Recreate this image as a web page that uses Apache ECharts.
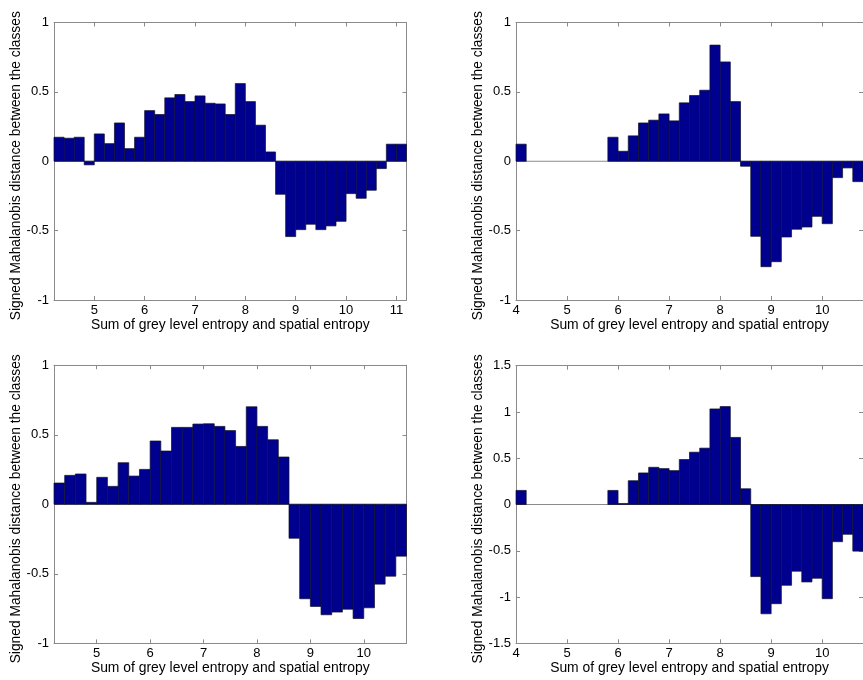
<!DOCTYPE html>
<html>
<head>
<meta charset="utf-8">
<title>Signed Mahalanobis distance histograms</title>
<script src="https://cdn.jsdelivr.net/npm/echarts@6/dist/echarts.min.js"></script>
<style>
  html, body { margin: 0; padding: 0; background: #ffffff; }
  #chart { width: 863px; height: 680px; }
</style>
</head>
<body>
<div id="chart"></div>
<script>
// Bin width of the entropy histogram
const binWidth = 0.2;

// Top-left panel: bins start at 4.2
const startTopLeft = 4.2;
const valuesTopLeft = [
  0.173, 0.166, 0.173, -0.026, 0.197, 0.127, 0.276, 0.091, 0.173, 0.365,
  0.337, 0.457, 0.481, 0.430, 0.471, 0.418, 0.413, 0.337, 0.560, 0.430,
  0.260, 0.067, -0.238, -0.543, -0.493, -0.454, -0.493, -0.466, -0.433, -0.233,
  -0.267, -0.209, -0.053, 0.123, 0.123
];

// Top-right panel: bins start at 4.0
const startTopRight = 4.0;
const valuesTopRight = [
  0.123, 0, 0, 0, 0, 0, 0, 0, 0, 0.173,
  0.072, 0.183, 0.276, 0.296, 0.341, 0.291, 0.421, 0.474, 0.512, 0.837,
  0.716, 0.430, -0.036, -0.541, -0.760, -0.724, -0.546, -0.490, -0.474, -0.397,
  -0.450, -0.118, -0.048, -0.147
];

// Bottom-left panel: bins start at 4.2
const startBottomLeft = 4.2;
const valuesBottomLeft = [
  0.153, 0.208, 0.218, 0.014, 0.194, 0.129, 0.299, 0.203, 0.251, 0.455,
  0.383, 0.553, 0.553, 0.577, 0.579, 0.560, 0.530, 0.416, 0.701, 0.560,
  0.464, 0.340, -0.244, -0.679, -0.734, -0.794, -0.775, -0.754, -0.821, -0.744,
  -0.574, -0.517, -0.373
];

// Bottom-right panel: bins start at 4.0
const startBottomRight = 4.0;
const valuesBottomRight = [
  0.152, 0, 0, 0, 0, 0, 0, 0, 0, 0.152,
  0.011, 0.257, 0.341, 0.402, 0.388, 0.366, 0.486, 0.565, 0.609, 1.033,
  1.058, 0.725, 0.170, -0.779, -1.181, -1.072, -0.873, -0.721, -0.837, -0.797,
  -1.018, -0.402, -0.322, -0.504
];

// Tick labels
const xTicksTopLeft = [5, 6, 7, 8, 9, 10, 11];
const xTicksBottomLeft = [5, 6, 7, 8, 9, 10];
const xTicksRight = [4, 5, 6, 7, 8, 9, 10];

const xLabel = 'Sum of grey level entropy and spatial entropy';
const yLabel = 'Signed Mahalanobis distance between the classes';

const FONT = '"Liberation Sans", Arial, Helvetica, sans-serif';
const AXIS_GREY = '#8a8a8a';
const BAR_FILL = '#00008f';
const BAR_EDGE = '#10102a';

const panels = [
  { start: startTopLeft, values: valuesTopLeft, xMin: 4.2, xMax: 11.2, xTicks: xTicksTopLeft,
    yMin: -1, yMax: 1, grid: { left: 54, top: 22.5, width: 352.5, height: 277.5 }, nameGap: 28 },
  { start: startTopRight, values: valuesTopRight, xMin: 4.0, xMax: 10.8, xTicks: xTicksRight,
    yMin: -1, yMax: 1, grid: { left: 516, top: 22.5, width: 353.6, height: 277.5 }, nameGap: 31 },
  { start: startBottomLeft, values: valuesBottomLeft, xMin: 4.2, xMax: 10.8, xTicks: xTicksBottomLeft,
    yMin: -1, yMax: 1, grid: { left: 54, top: 365.2, width: 352.5, height: 278.2 }, nameGap: 28 },
  { start: startBottomRight, values: valuesBottomRight, xMin: 4.0, xMax: 10.8, xTicks: xTicksRight,
    yMin: -1.5, yMax: 1.5, grid: { left: 516, top: 365.7, width: 353.6, height: 277.6 }, nameGap: 31 }
];

const grids = [], xAxes = [], yAxes = [], series = [];

panels.forEach(function (p, i) {
  grids.push(Object.assign({ containLabel: false, show: false }, p.grid));

  const lineStyle = { color: AXIS_GREY, width: 1 };
  const tick = { show: true, inside: true, length: 4, lineStyle: { color: AXIS_GREY, width: 1 } };

  // bottom axis with labels
  xAxes.push({
    type: 'value', gridIndex: i, position: 'bottom', min: p.xMin, max: p.xMax,
    axisLine: { show: true, onZero: false, lineStyle: lineStyle },
    axisTick: Object.assign({ customValues: p.xTicks }, tick),
    axisLabel: { customValues: p.xTicks, color: '#000', fontFamily: FONT, fontSize: 13, margin: 4 },
    splitLine: { show: false },
    name: xLabel, nameLocation: 'middle', nameGap: 18,
    nameTextStyle: { color: '#000', fontFamily: FONT, fontSize: 13.9 }
  });
  // top border with mirrored ticks
  xAxes.push({
    type: 'value', gridIndex: i, position: 'top', min: p.xMin, max: p.xMax,
    axisLine: { show: true, onZero: false, lineStyle: lineStyle },
    axisTick: Object.assign({ customValues: p.xTicks }, tick),
    axisLabel: { show: false, customValues: p.xTicks },
    splitLine: { show: false }
  });
  // left axis with labels
  yAxes.push({
    type: 'value', gridIndex: i, position: 'left', min: p.yMin, max: p.yMax, interval: 0.5,
    axisLine: { show: true, onZero: false, lineStyle: lineStyle },
    axisTick: tick,
    axisLabel: { color: '#000', fontFamily: FONT, fontSize: 13, margin: 5 },
    splitLine: { show: false },
    name: yLabel, nameLocation: 'middle', nameGap: p.nameGap,
    nameTextStyle: { color: '#000', fontFamily: FONT, fontSize: 13.8, padding: [0, 9, 0, 0] }
  });
  // right border with mirrored ticks
  yAxes.push({
    type: 'value', gridIndex: i, position: 'right', min: p.yMin, max: p.yMax, interval: 0.5,
    axisLine: { show: true, onZero: false, lineStyle: lineStyle },
    axisTick: tick,
    axisLabel: { show: false },
    splitLine: { show: false }
  });

  // zero baseline
  series.push({
    type: 'line', xAxisIndex: 2 * i, yAxisIndex: 2 * i, silent: true, z: 1,
    symbol: 'none', animation: false,
    lineStyle: { color: AXIS_GREY, width: 1 },
    data: [[p.xMin, 0], [p.xMax, 0]]
  });

  // histogram bars: [left edge, right edge, value]
  const bins = p.values.map(function (v, k) {
    const left = +(p.start + k * binWidth).toFixed(3);
    const right = +(left + binWidth).toFixed(3);
    return [left, right, v];
  });

  series.push({
    type: 'custom', xAxisIndex: 2 * i, yAxisIndex: 2 * i, z: 2, animation: false,
    encode: { x: [0, 1], y: 2 },
    data: bins,
    renderItem: function (params, api) {
      const v = api.value(2);
      if (v === 0) return null;
      const a = api.coord([api.value(0), v]);
      const b = api.coord([api.value(1), 0]);
      return {
        type: 'rect',
        shape: { x: a[0], y: Math.min(a[1], b[1]), width: b[0] - a[0], height: Math.abs(b[1] - a[1]) },
        style: { fill: BAR_FILL, stroke: BAR_EDGE, lineWidth: 0.7 }
      };
    }
  });
});

const chart = echarts.init(document.getElementById('chart'), null, { renderer: 'canvas' });
chart.setOption({
  backgroundColor: '#ffffff',
  animation: false,
  textStyle: { fontFamily: FONT },
  grid: grids,
  xAxis: xAxes,
  yAxis: yAxes,
  series: series
});
</script>
</body>
</html>
